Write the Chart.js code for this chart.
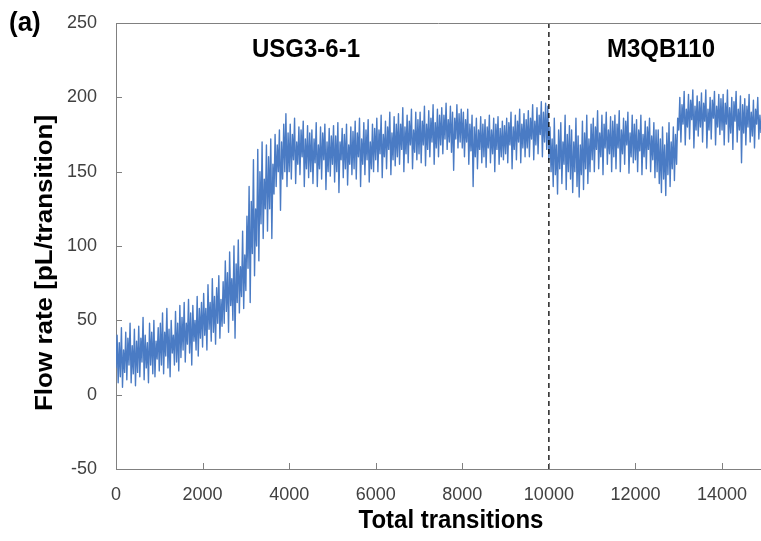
<!DOCTYPE html>
<html><head><meta charset="utf-8">
<script src="https://cdn.jsdelivr.net/npm/chart.js@4/dist/chart.umd.min.js"></script>
<style>html,body{margin:0;padding:0;background:#fff}#wrap{width:761px;height:541px;position:relative}</style>
</head><body><div id="wrap"><canvas id="c" width="761" height="541"></canvas></div>
<script>
// ---- data ----
const STEP = 25; // transitions between samples
const flowRate = [
18,40,8,35,12,45,5,30,15,42,10,38,20,48,8,33,14,44,6,36,
15,46,12,38,22,52,10,40,18,35,8,48,20,42,14,50,12,36,24,45,
16,48,20,55,14,42,26,58,18,44,12,50,28,40,20,56,22,48,16,60,
25,52,30,62,22,48,34,64,28,55,20,60,36,50,30,66,26,58,38,62,
32,68,40,58,30,74,44,62,36,78,42,66,34,72,48,80,38,64,46,76,
48,90,56,82,42,96,60,78,50,100,38,88,62,104,55,86,66,110,58,94,
70,120,85,140,62,130,95,158,80,125,100,165,90,150,115,170,105,145,125,168,
110,160,125,172,105,155,135,175,140,168,150,178,124,170,145,182,150,189,140,176,
150,182,145,175,158,186,142,170,155,180,148,178,160,184,140,172,152,181,146,176,
150,178,142,172,156,183,140,168,152,180,145,176,158,182,138,170,150,179,147,174,
155,181,143,174,150,183,136,170,158,179,146,175,152,182,141,168,155,180,148,177,
152,184,145,176,160,186,140,172,155,183,148,178,158,185,143,170,152,182,150,179,
158,186,150,178,162,188,146,175,160,184,152,180,165,190,148,176,158,187,154,182,
160,189,155,182,165,193,150,180,162,188,156,184,168,192,152,178,163,190,158,185,
162,190,156,184,168,194,154,182,165,191,160,186,170,195,155,183,166,192,160,188,
168,193,162,188,172,196,165,185,170,194,163,190,151,186,172,195,166,189,170,192,
166,190,160,185,170,192,155,182,164,188,140,180,160,186,152,178,165,187,156,182,
160,185,153,180,166,188,156,178,162,186,150,182,165,187,155,179,160,184,158,181,
162,186,156,183,168,190,152,180,165,188,158,184,170,192,156,182,166,189,160,185,
166,191,160,186,172,195,158,184,168,193,162,188,175,197,160,190,170,196,165,194,
158,180,150,172,140,186,148,168,135,178,152,183,142,170,155,188,138,175,150,181,
145,178,136,170,150,186,140,174,133,168,148,184,138,176,152,188,142,172,150,182,
158,186,150,180,165,191,152,176,160,188,148,182,166,190,155,178,162,187,150,184,
160,188,152,182,166,191,150,178,162,186,155,184,168,190,149,176,160,188,156,182,
158,185,150,178,164,188,148,175,160,184,152,180,165,186,150,174,158,183,146,178,
150,178,142,172,136,180,145,168,134,176,148,183,140,170,152,180,144,175,155,186,
178,200,170,195,182,204,168,192,180,202,172,198,185,205,166,194,178,201,174,197,
180,203,170,196,184,205,166,192,178,200,172,198,186,204,168,194,180,202,175,199,
178,202,168,196,182,205,170,193,176,200,165,197,184,204,170,192,178,201,156,195,
176,199,168,194,180,202,170,190,174,198,166,192,182,200,172,188,176,196,170,190
];
const xTicks = [0,2000,4000,6000,8000,10000,12000,14000];
const yTicks = [-50,0,50,100,150,200,250];
const boundary = 10000;
const segmentLabels = ['USG3-6-1','M3QB110'];
const segmentLabelX = [4390,12590];
const segmentLabelY = 232;

const FONT = "'Liberation Sans', Arial, sans-serif";
Chart.defaults.font.family = FONT;

function stretchedText(ctx, txt, x, y, sy){
  ctx.save(); ctx.translate(x, y); ctx.scale(1, sy); ctx.fillText(txt, 0, 0); ctx.restore();
}

const extras = {
  id:'extras',
  afterDraw(chart){
    const {ctx, chartArea:a, scales:{x,y}} = chart;
    ctx.save();
    // inward tick marks + top border
    ctx.strokeStyle = '#808080'; ctx.lineWidth = 1;
    ctx.beginPath();
    x.ticks.forEach(t=>{const px=Math.round(x.getPixelForValue(t.value))+0.5; ctx.moveTo(px,a.bottom); ctx.lineTo(px,a.bottom-6);});
    y.ticks.forEach(t=>{const py=Math.round(y.getPixelForValue(t.value))+0.5; ctx.moveTo(a.left,py); ctx.lineTo(a.left+6,py);});
    ctx.moveTo(a.left, Math.round(a.top)+0.5); ctx.lineTo(a.right, Math.round(a.top)+0.5);
    ctx.stroke();
    // segment labels
    ctx.fillStyle = '#000';
    ctx.font = "bold 24px " + FONT;
    ctx.textAlign = 'center'; ctx.textBaseline = 'middle';
    segmentLabels.forEach((s,i)=>stretchedText(ctx, s, x.getPixelForValue(segmentLabelX[i]), y.getPixelForValue(segmentLabelY), 1.05));
    // panel tag
    ctx.font = "bold 26px " + FONT;
    ctx.textAlign = 'left';
    stretchedText(ctx, '(a)', 9, 23, 1.08);
    // axis titles
    ctx.font = "bold 24px " + FONT;
    ctx.textAlign = 'center';
    stretchedText(ctx, 'Total transitions', 451, 521, 1.08);
    ctx.translate(45, 263); ctx.rotate(-Math.PI/2);
    ctx.font = "bold 26px " + FONT;
    ctx.scale(1, 0.92);
    ctx.fillText('Flow rate [pL/transition]', 0, 0);
    ctx.restore();
  }
};

new Chart(document.getElementById('c'), {
  type:'line',
  data:{
    datasets:[
      {label:'boundary', data:[{x:boundary,y:yTicks[0]},{x:boundary,y:yTicks[yTicks.length-1]}],
       borderColor:'#000', borderWidth:1.3, borderDash:[5,4], pointRadius:0, order:0},
      {label:'flow', data:flowRate.map((v,i)=>({x:i*STEP,y:v})),
       borderColor:'#4a7bc4', borderWidth:1.4, pointRadius:0, borderJoinStyle:'round', tension:0, order:1}
    ]
  },
  options:{
    responsive:false, animation:false, devicePixelRatio:1,
    layout:{padding:{left:0,right:0,top:23,bottom:0}},
    plugins:{legend:{display:false}, tooltip:{enabled:false}},
    scales:{
      x:{type:'linear', min:0, max:14900,
        afterBuildTicks:s=>{s.ticks = xTicks.filter(v=>v<=14900).map(v=>({value:v}));},
        ticks:{font:{size:18}, color:'#404040', padding:15, maxRotation:0, autoSkip:false, callback:v=>String(v)},
        grid:{display:false, drawTicks:false},
        border:{display:true, color:'#808080', width:1},
        afterFit:s=>{s.height=72; s.paddingLeft=0; s.paddingRight=0;}
      },
      y:{type:'linear', min:-50, max:250,
        afterBuildTicks:s=>{s.ticks = yTicks.map(v=>({value:v}));},
        ticks:{font:{size:18}, color:'#404040', padding:19, callback:v=>String(v)},
        grid:{display:false, drawTicks:false},
        border:{display:true, color:'#808080', width:1},
        afterFit:s=>{s.width=116; s.paddingTop=0; s.paddingBottom=0;}
      }
    }
  },
  plugins:[extras]
});
</script></body></html>
